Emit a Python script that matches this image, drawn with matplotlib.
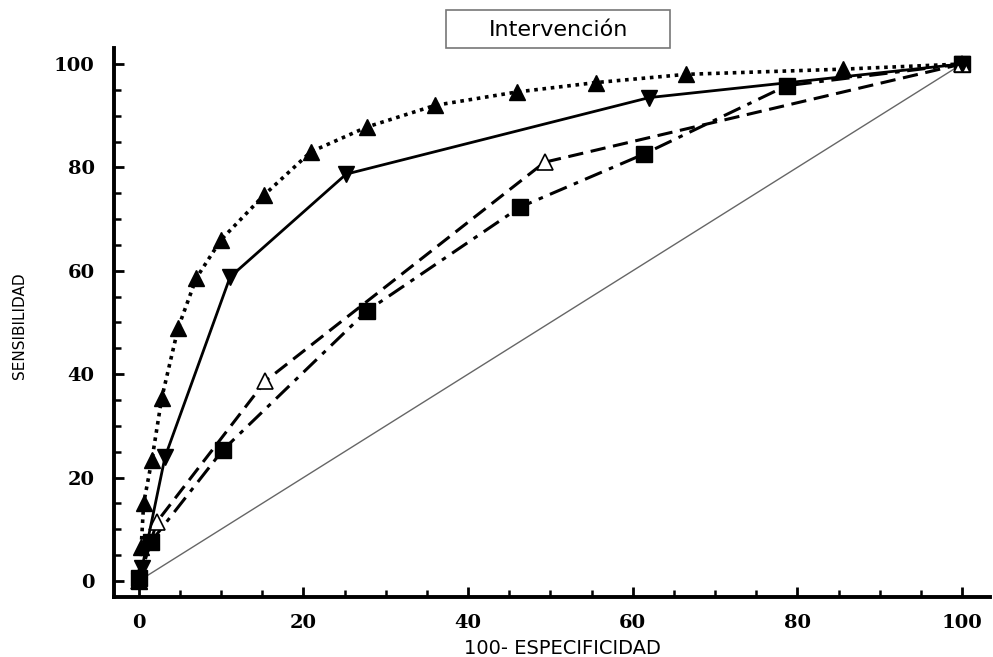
import numpy as np
import matplotlib.pyplot as plt
from matplotlib.ticker import MultipleLocator
from matplotlib.patches import Rectangle

# ROC curves
x_up = [0, 0.3, 0.6, 1.6, 2.8, 4.8, 7.0, 10.0, 15.2, 20.9, 27.7, 36.0, 46.0, 55.5, 66.5, 85.5, 100]
y_up = [0, 6.5, 15.0, 23.4, 35.4, 49.0, 58.6, 66.0, 74.6, 83.0, 87.8, 92.0, 94.6, 96.4, 98.0, 99.0, 100]

x_down = [0, 0.4, 3.2, 11.1, 25.2, 62.0, 100]
y_down = [0, 2.5, 24.0, 58.8, 78.7, 93.5, 100]

x_open = [0, 2.2, 15.4, 49.3, 100]
y_open = [0, 11.4, 38.7, 81.0, 100]

x_sq = [0, 1.5, 10.2, 27.7, 46.3, 61.4, 78.7, 100]
y_sq = [0.5, 7.6, 25.3, 52.2, 72.3, 82.6, 95.8, 100]

ticks = [0, 20, 40, 60, 80, 100]

fig = plt.figure(figsize=(9.93, 6.57), dpi=100)
ax = fig.add_axes([0.1148, 0.0913, 0.8822, 0.8357])

ax.plot([0, 100], [0, 100], color='#666666', lw=1.0, zorder=1)
ax.plot(x_sq, y_sq, color='black', lw=2.2, ls=(0, (6, 2.5, 1.5, 2.5)),
        marker='s', ms=11, mfc='black', mec='black', zorder=2)
ax.plot(x_open, y_open, color='black', lw=2.2, ls=(0, (5, 2.5)),
        marker='^', ms=11, mfc='white', mec='black', mew=1.2, zorder=3)
ax.plot(x_down, y_down, color='black', lw=2.0, ls='-',
        marker='v', ms=11, mfc='black', mec='black', zorder=4)
ax.plot(x_up[:-1], y_up[:-1], color='black', lw=2.6, ls=(0, (1, 1.3)),
        marker='^', ms=11, mfc='black', mec='black', zorder=5)
ax.plot(x_up[-2:], y_up[-2:], color='black', lw=2.6, ls=(0, (1, 1.3)), zorder=5)

ax.set_xlim(-3.0, 103.4)
ax.set_ylim(-3.1, 103.1)
ax.set_xticks(ticks)
ax.set_yticks(ticks)
ax.xaxis.set_minor_locator(MultipleLocator(5))
ax.yaxis.set_minor_locator(MultipleLocator(5))
ax.tick_params(which='major', direction='in', length=7, width=2, labelsize=14)
ax.tick_params(axis='x', which='major', pad=12)
ax.tick_params(axis='y', which='major', pad=14)
ax.tick_params(which='minor', direction='in', length=5, width=1.8)
for lab in ax.get_xticklabels() + ax.get_yticklabels():
    lab.set_fontfamily('DejaVu Serif')
    lab.set_fontweight('bold')

for side in ['top', 'right']:
    ax.spines[side].set_visible(False)
for side in ['left', 'bottom']:
    ax.spines[side].set_linewidth(2.8)

# title box
fig.patches.append(Rectangle((446 / 993, 1 - 48 / 657), 224 / 993, 38 / 657,
                             transform=fig.transFigure, fc='white',
                             ec='#777777', lw=1.2))
fig.text(0.5625, 1 - 30 / 657, 'Intervención', ha='center', va='center',
         fontsize=16, family='DejaVu Sans')
fig.text(0.566, 1 - 648 / 657, '100- ESPECIFICIDAD', ha='center', va='center',
         fontsize=14, family='DejaVu Sans')
fig.text(0.02, 0.505, 'SENSIBILIDAD', ha='center', va='center', rotation=90,
         fontsize=11, family='DejaVu Sans')

fig.savefig('out.png', dpi=100)
